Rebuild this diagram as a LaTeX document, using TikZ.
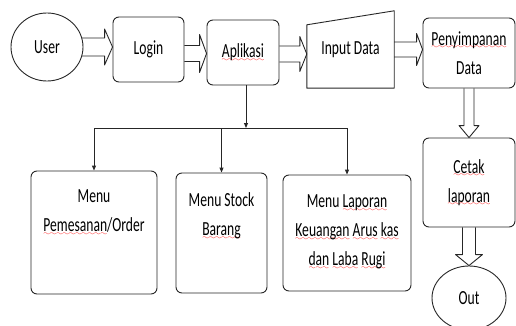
\documentclass[tikz,border=0pt]{standalone}
\usepackage{fontspec}
\setmainfont{Carlito}[FakeStretch=0.68]
\usetikzlibrary{shapes.geometric, arrows.meta, calc}
\font\wavefont=lasy6 at 7pt
\newsavebox\typobox
% red spell-check wave under a word
\newcommand\typo[1]{\sbox\typobox{#1}\rlap{\textcolor{red}{\lower3.5pt\hbox to\wd\typobox{\xleaders\hbox{\wavefont\char58}\hfil}}}\usebox\typobox}
\tikzset{
  ink/.style={draw=black!85, line width=0.9pt},
  box/.style={ink, rounded corners=6pt},
  blob/.style={ink, ellipse},
  lbl/.style={anchor=north, inner sep=0pt, align=center},
  fat/.style args={#1/#2/#3}{ink, to path={
    let \p1=($(\tikztotarget)!#3!(\tikztostart)$) in
    ($(\tikztostart)!#1!90:(\tikztotarget)$) -- ($(\p1)!#1!90:(\tikztotarget)$)
    -- ($(\p1)!#2!90:(\tikztotarget)$) -- (\tikztotarget)
    -- ($(\p1)!#2!-90:(\tikztotarget)$) -- ($(\p1)!#1!-90:(\tikztotarget)$)
    -- ($(\tikztostart)!#1!-90:(\tikztotarget)$)}}
}
\begin{document}
\begin{tikzpicture}[x=1pt, y=-1pt, line join=round, font=\fontsize{20}{29}\selectfont]
  \useasboundingbox (0,0) rectangle (516,326);
  % Top row
  \node [blob, minimum width=72pt, minimum height=68pt] (user) at (47,47) {User};
  \node [box, minimum width=71pt, minimum height=65pt] (login) at (148.5,49.5) {Login};
  \node [box, minimum width=72pt, minimum height=65pt] (apl) at (243,52.5) {\typo{Aplikasi}};
  \node [minimum width=87pt, minimum height=77pt] (inp) at (350.5,49.5) {Input Data};
  \draw [ink] (inp.south west) -- (inp.south east) -- (inp.north east) -- ([yshift=-14pt]inp.north west) -- cycle;
  \node [box, minimum width=92pt, minimum height=70pt, align=center] (simpan) at (469,53) {\typo{Penyimpanan}\\Data};
  % Right column
  \node [box, minimum width=92pt, minimum height=89pt, align=center] (cetak) at (469,182.5) {\typo{Cetak}\\\typo{laporan}};
  \node [blob, minimum width=74pt, minimum height=64pt] (out) at (469,298) {Out};
  % Menu row
  \node [box, minimum width=126pt, minimum height=123pt,
    label={[lbl, yshift=-19pt]north:Menu\\\typo{Pemesanan}/Order}] (pesan) at (94,232.5) {};
  \node [box, minimum width=91pt, minimum height=120pt,
    label={[lbl, yshift=-20pt]north:Menu Stock\\\typo{Barang}}] (stock) at (221.5,233) {};
  \node [box, minimum width=128pt, minimum height=116pt,
    label={[lbl, yshift=-20pt]north:Menu \typo{Laporan}\\\typo{Keuangan} \typo{Arus} \typo{kas}\\\typo{dan} \typo{Laba} \typo{Rugi}}] (lapor) at (347,233) {};
  % Block arrows
  \draw [fat=9pt/18pt/8pt] ([xshift=-1.3pt]user.east) to (user.east -| login.west);
  \draw [fat=8pt/19pt/7pt] ([yshift=-4pt]login.east) to ([yshift=-4pt]login.east -| apl.west);
  \draw [fat=8pt/17.5pt/7pt] ([yshift=-1.5pt]apl.east) to ([yshift=-1.5pt]apl.east -| inp.west);
  \draw [fat=7.5pt/16pt/6pt] (inp.east) to (inp.east -| simpan.west);
  \draw [fat=5pt/10pt/12pt] (simpan.south) to (cetak.north);
  \draw [fat=6.5pt/13.5pt/11pt] (cetak.south) to (out.north);
  % Menu arrows
  \coordinate (bus) at (246,128);
  \draw [ink, -{Triangle[length=5pt, width=4pt]}] ([xshift=3pt]apl.south) -- ([xshift=3pt]apl.south |- bus);
  \draw [ink] (pesan.north |- bus) -- (lapor.north |- bus);
  \foreach \m in {pesan, stock, lapor}
    \draw [ink, -{Triangle[length=5pt, width=4pt]}] (\m.north |- bus) -- (\m.north);
\end{tikzpicture}
\end{document}
